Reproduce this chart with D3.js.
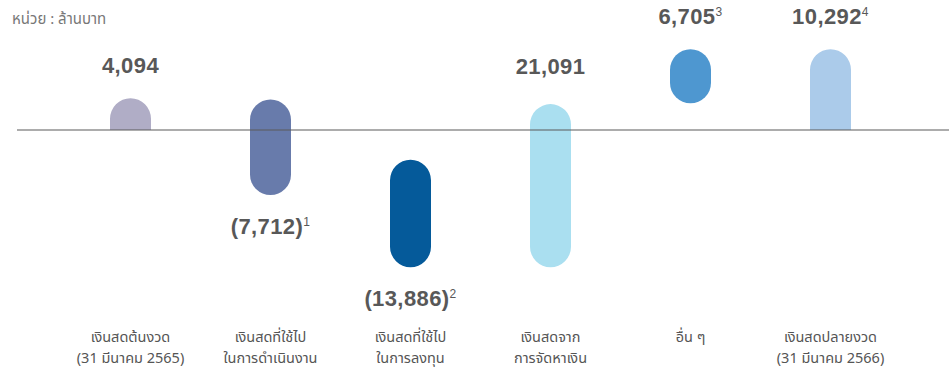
<!DOCTYPE html>
<html><head><meta charset="utf-8">
<script src="https://cdn.jsdelivr.net/npm/d3@7"></script>
<style>
html,body{margin:0;padding:0;background:#fff;}
svg{display:block;}
</style></head>
<body>
<svg id="chart" width="949" height="368"></svg>
<script>
// ---- data ----
const categories = ["c1","c2","c3","c4","c5","c6"];
const labelLine1 = ["เงินสดต้นงวด","เงินสดที่ใช้ไป","เงินสดที่ใช้ไป","เงินสดจาก","อื่น ๆ","เงินสดปลายงวด"];
const labelLine2 = ["(31 มีนาคม 2565)","ในการดำเนินงาน","ในการลงทุน","การจัดหาเงิน","","(31 มีนาคม 2566)"];
const values = [4094, -7712, -13886, 21091, 6705, 10292];
const valueText = ["4,094","(7,712)","(13,886)","21,091","6,705","10,292"];
const footnotes = ["","1","2","","3","4"];
// bar extents as drawn in the picture (million baht)
const barFrom = [0, 3900, -3800, -17500, 3400, 0];
const barTo = [4050, -8300, -17500, 3300, 10292, 10292];
const colors = ["#b0adc6","#687bab","#055a9a","#aadff0","#4e97d0","#abcbea"];
const unitText = "หน่วย : ล้านบาท";

const svg = d3.select("#chart");
const x = d3.scaleBand().domain(categories).range([60.5, 900.5]).paddingInner(0).paddingOuter(0);
const y = d3.scaleLinear().domain([-17500, 10292]).range([267.2, 49.3]);
const bw = 41, r = bw/2;
const thai = "'Noto Sans Thai','Noto Sans','DejaVu Sans',sans-serif";
const numFont = "'Liberation Sans',Arial,sans-serif";

function pillPath(cx, yTop, yBot, roundTop, roundBot){
  const x0 = cx - r, x1 = cx + r;
  let p = "";
  if (roundTop) { p += `M${x0},${yTop + r} A${r},${r} 0 0 1 ${x1},${yTop + r}`; }
  else { p += `M${x0},${yTop} L${x1},${yTop}`; }
  if (roundBot) { p += ` L${x1},${yBot - r} A${r},${r} 0 0 1 ${x0},${yBot - r}`; }
  else { p += ` L${x1},${yBot} L${x0},${yBot}`; }
  return p + " Z";
}

const data = categories.map((c,i)=>({c,i,from:barFrom[i],to:barTo[i]}));
svg.append("g").selectAll("path").data(data).join("path")
  .attr("d", d => {
    const cx = x(d.c) + x.bandwidth()/2;
    const hi = Math.max(d.from, d.to), lo = Math.min(d.from, d.to);
    return pillPath(cx, y(hi), y(lo), hi !== 0, lo !== 0);
  })
  .attr("fill", d => colors[d.i]);

// baseline
svg.append("line").attr("x1",17).attr("x2",949).attr("y1",y(0)).attr("y2",y(0))
  .attr("stroke","#5a5a5a").attr("stroke-width",1.2);

// value labels
const labelY = d => {
  const hi = Math.max(d.from, d.to), lo = Math.min(d.from, d.to);
  return values[d.i] >= 0 ? y(hi) - 25 : y(lo) + 39;
};
const vl = svg.append("g").selectAll("text").data(data).join("text")
  .attr("x", d => x(d.c) + x.bandwidth()/2)
  .attr("y", d => d.i===3 ? 73.5 : labelY(d))
  .attr("text-anchor","middle")
  .attr("font-family", numFont).attr("font-weight","bold").attr("font-size",22)
  .attr("letter-spacing",0.4)
  .attr("fill","#585858");
vl.append("tspan").text(d => valueText[d.i]);
vl.append("tspan").text(d => footnotes[d.i]).attr("font-size",12).attr("font-weight","normal").attr("dy",-8);

// category labels
const cl = svg.append("g").selectAll("text").data(data).join("text")
  .attr("x", d => x(d.c) + x.bandwidth()/2)
  .attr("y", 342)
  .attr("text-anchor","middle")
  .attr("font-family", thai).attr("font-size",14.5).attr("fill","#555");
cl.append("tspan").text(d => labelLine1[d.i]);
cl.append("tspan").text(d => labelLine2[d.i]).attr("x", d => x(d.c) + x.bandwidth()/2).attr("dy",20.5);

svg.append("text").attr("x",12).attr("y",24).text(unitText)
  .attr("font-family", thai).attr("font-size",15).attr("fill","#777");
</script>
</body></html>
